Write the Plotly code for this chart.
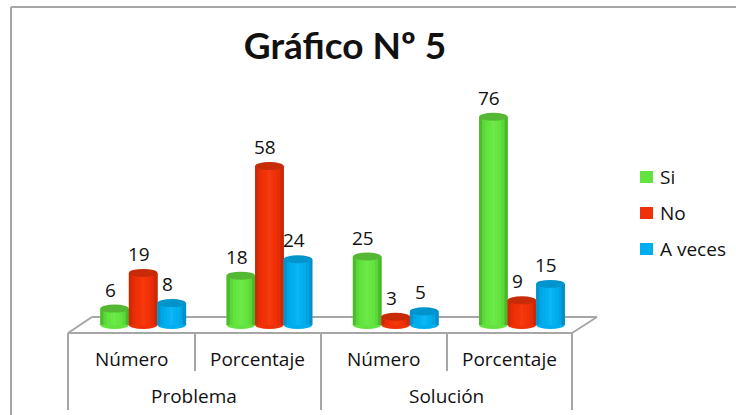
import plotly.graph_objects as go

categories = ["Número", "Porcentaje", "Número", "Porcentaje"]
groups = ["Problema", "Solución"]
series_names = ["Si", "No", "A veces"]
si_values = [6, 18, 25, 76]
no_values = [19, 58, 3, 9]
aveces_values = [8, 24, 5, 15]
all_values = [si_values, no_values, aveces_values]

W, H = 736, 415
L, R, T, B = 80, 585, 45, 335
BASE = 325
SCALE = 2.74
BW = 0.226
px = lambda x: (x - L) / (R - L)
py = lambda y: (B - y) / (B - T)
GRAY = "#a6a6a6"
FONT = "Open Sans"
TXT = "#111111"
FS = 19

colors = ["#63e33f", "#f03008", "#00aeef"]
tops = ["#55b834", "#c82b08", "#0094cc"]
shades = [
    ["#4cbc2c", "#5ad838", "#63e33f", "#68e644", "#6cea48", "#68e644", "#63e33f", "#5ad838", "#4ab82a"],
    ["#cf2a06", "#e62d07", "#f03008", "#f33408", "#f53a10", "#f33408", "#f03008", "#e42d07", "#c92906"],
    ["#0095cf", "#00a6e6", "#00aeef", "#04b1f1", "#10b6f3", "#04b1f1", "#00aeef", "#00a4e2", "#008fc8"],
]

fig = go.Figure()
xs = list(range(len(categories)))
shapes = []
annotations = []


def line(x0, y0, x1, y1, w=2, c=GRAY):
    shapes.append(dict(type="line", xref="paper", yref="paper", x0=px(x0), x1=px(x1),
                       y0=py(y0), y1=py(y1), line=dict(color=c, width=w), layer="below"))


line(11, 7, 736, 7)
line(11, 7, 11, 415)
line(68, 333, 92, 317)
line(92, 317, 597, 317)
line(597, 317, 572, 333)
line(68, 333, 572, 333)
for xp, yend in [(68, 410), (195, 371), (321, 410), (447, 371), (572, 410)]:
    line(xp, 333, xp, yend)

for s, (name, vals) in enumerate(zip(series_names, all_values)):
    off = (s - 1.5) * BW
    xpos = [x + off + BW / 2 for x in xs]
    fig.add_trace(go.Bar(x=xs, y=vals, name=name, width=BW, offset=off,
                         marker=dict(color=colors[s], line_width=0), showlegend=False))
    n = len(shades[s])
    for k, c in enumerate(shades[s]):
        fig.add_trace(go.Bar(x=xs, y=vals, width=BW / n + 0.002, offset=off + k * BW / n,
                             marker=dict(color=c, line_width=0), showlegend=False, hoverinfo="skip"))
    for xc, v in zip(xpos, vals):
        shapes.append(dict(type="circle", xref="x", yref="y", x0=xc - BW / 2, x1=xc + BW / 2,
                           ysizemode="pixel", yanchor=0, y0=-4, y1=4,
                           fillcolor=colors[s], line_width=0, layer="below"))
        shapes.append(dict(type="circle", xref="x", yref="y", x0=xc - BW / 2, x1=xc + BW / 2,
                           ysizemode="pixel", yanchor=v, y0=-4, y1=4,
                           fillcolor=tops[s], line_width=0, layer="above"))
        annotations.append(dict(x=xc, y=v, xref="x", yref="y", xshift=-4, yshift=19, text=str(v),
                                yanchor="middle", showarrow=False, font=dict(family=FONT, size=FS, color=TXT)))
    ly = 177 + 36 * s
    shapes.append(dict(type="rect", xref="paper", yref="paper", x0=px(640), x1=px(653), y0=py(ly - 6), y1=py(ly + 6),
                       fillcolor=colors[s], line_width=0))
    annotations.append(dict(x=px(658), y=py(ly), xref="paper", yref="paper", xanchor="left", yanchor="middle",
                            text=name, showarrow=False, font=dict(family=FONT, size=FS, color=TXT)))

for x, c in zip(xs, categories):
    annotations.append(dict(x=x, xref="x", xshift=-12, y=py(359), yref="paper", yanchor="middle", text=c,
                            showarrow=False, font=dict(family=FONT, size=FS, color=TXT)))
for i, g in enumerate(groups):
    annotations.append(dict(x=2 * i + 0.5, xref="x", xshift=-12, y=py(396), yref="paper", yanchor="middle", text=g,
                            showarrow=False, font=dict(family=FONT, size=FS, color=TXT)))

fig.update_layout(
    width=W, height=H, autosize=False,
    margin=dict(l=L, r=W - R, t=T, b=H - B, autoexpand=False),
    paper_bgcolor="white", plot_bgcolor="rgba(0,0,0,0)",
    barmode="overlay", showlegend=False,
    title=dict(text="<b>Gráfico Nº 5</b>", x=345 / W, xanchor="center", xref="container",
               y=1 - 46 / H, yanchor="middle", font=dict(family="Lato", size=37, color=TXT)),
    xaxis=dict(range=[-0.5, 3.5], visible=False),
    yaxis=dict(range=[(BASE - B) / SCALE, (BASE - T) / SCALE], visible=False),
    shapes=shapes, annotations=annotations,
)
fig.write_html("out.html", config=dict(displayModeBar=False),
               post_script="document.body.style.margin='0';document.body.style.overflow='hidden';")
